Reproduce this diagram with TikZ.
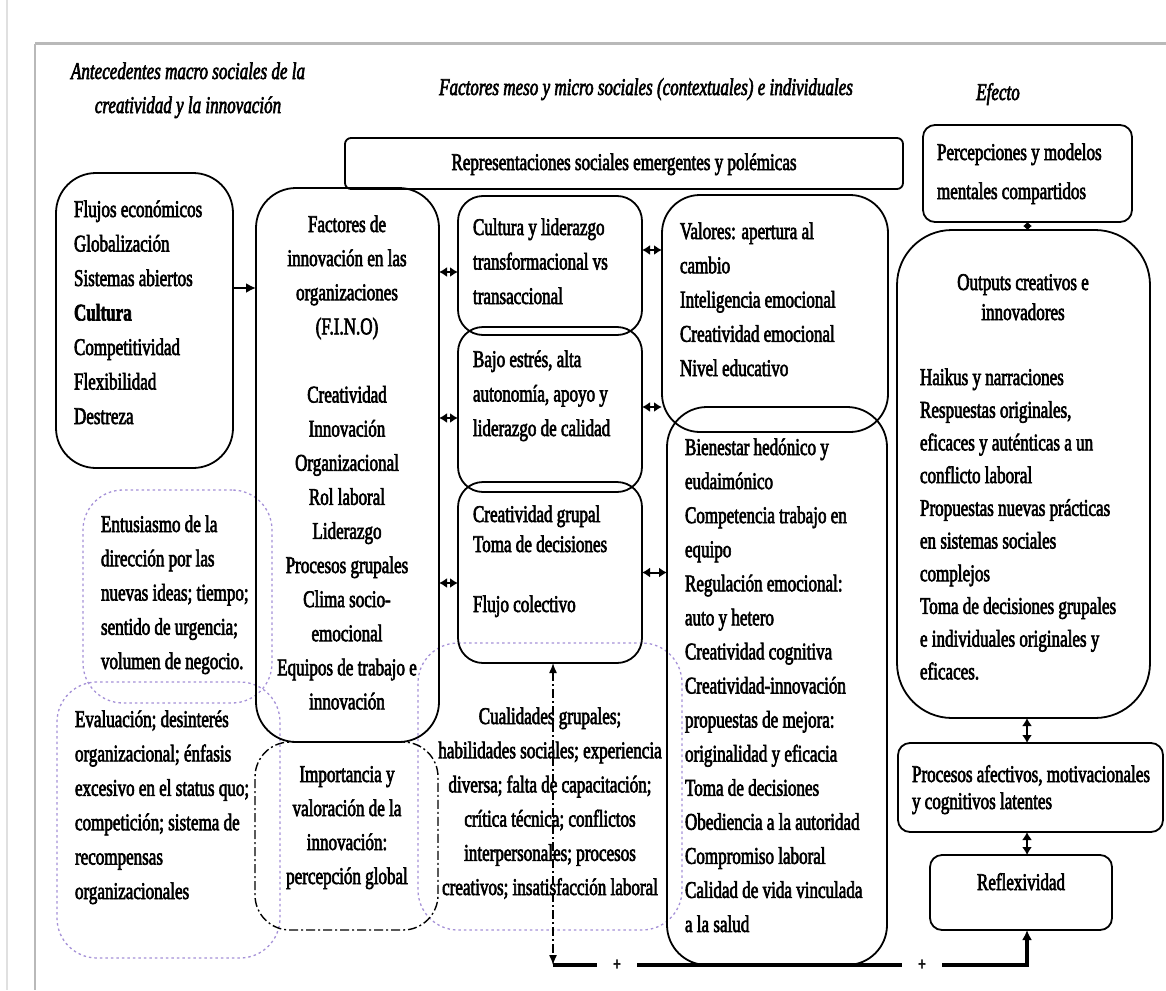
\documentclass[tikz,border=0pt]{standalone}
\usepackage{fontspec}
\setmainfont[FakeStretch=0.71, FakeBold=2.5]{Liberation Serif}
\usetikzlibrary{arrows.meta,calc}
\newcommand\lnstrut{\rule{0pt}{20pt}}
\newcommand\setfs[1]{\fontsize{24}{#1}\selectfont}
\definecolor{lav}{RGB}{165,145,215}
\definecolor{framegray}{RGB}{185,185,185}
\begin{document}
\begin{tikzpicture}[x=1pt,y=-1pt,
  box/.style={draw, line width=1.8pt, inner sep=0pt, outer sep=0pt, anchor=north west},
  dotbox/.style={draw=lav, line width=1.3pt, dash pattern=on 2.5pt off 3pt, inner sep=0pt, outer sep=0pt, anchor=north west},
  dashdotbox/.style={draw, line width=1.4pt, dash pattern=on 9pt off 3pt on 2pt off 3pt, inner sep=0pt, outer sep=0pt, anchor=north west},
  tx/.style={inner sep=0pt, outer sep=0pt, align=left, anchor=north west},
  tc/.style={inner sep=0pt, outer sep=0pt, align=center, anchor=north},
  dbl/.style={line width=2pt, {Latex[length=8pt,width=10pt]}-{Latex[length=8pt,width=10pt]}},
  sdbl/.style={line width=2.5pt, {Latex[length=4pt,width=9pt]}-{Latex[length=4pt,width=9pt]}},
  fb/.style={line width=3.5pt},
  ddline/.style={line width=1.4pt, dash pattern=on 9pt off 3pt on 2pt off 3pt},
  plus/.style={inner sep=0pt, outer sep=0pt, minimum width=40pt, font=\bfseries\fontsize{19}{19}\selectfont}
]
\useasboundingbox (0,0) rectangle (1166,990);

% page frame
\draw[black!12, line width=1.5pt] (7,0) -- (7,990);
\draw[framegray, line width=3pt] (35,44) -- (1166,44);
\draw[framegray, line width=2.5pt] (35,44) -- (35,990);

% column headings
\node[tc, font=\itshape\setfs{34}] (hA) at (188,59) {\lnstrut Antecedentes macro sociales de la\\creatividad y la innovación};
\node[tc, font=\itshape\setfs{34}] (hB) at (646,75) {\lnstrut Factores meso y micro sociales (contextuales) e individuales};
\node[tc, font=\itshape\setfs{34}] (hC) at (998,80) {\lnstrut Efecto};

% dotted and dash-dotted groupings
\node[dotbox, minimum width=189pt, minimum height=213pt, rounded corners=40pt] (entu) at (83,490) {};
\node[dotbox, minimum width=223pt, minimum height=276pt, rounded corners=40pt] (eval) at (57,682) {};
\node[dotbox, minimum width=264pt, minimum height=287pt, rounded corners=40pt] (cual) at (418,643) {};
\node[dashdotbox, minimum width=183pt, minimum height=188pt, rounded corners=35pt] (impo) at (255,742) {};

% solid boxes
\node[box, minimum width=558pt, minimum height=51pt, rounded corners=6pt] (repr) at (345,138) {};
\node[box, minimum width=177pt, minimum height=295pt, rounded corners=40pt] (flujos) at (56,173) {};
\node[box, minimum width=183pt, minimum height=554pt, rounded corners=40pt] (fino) at (256,188) {};
\node[box, minimum width=184pt, minimum height=139pt, rounded corners=25pt] (cult) at (458,196) {};
\node[box, minimum width=184pt, minimum height=165pt, rounded corners=25pt] (bajo) at (458,327) {};
\node[box, minimum width=184pt, minimum height=181pt, rounded corners=25pt] (crea) at (458,482) {};
\node[box, minimum width=226pt, minimum height=237pt, rounded corners=38pt] (valores) at (662,195) {};
\node[box, minimum width=220pt, minimum height=558pt, rounded corners=40pt] (bien) at (667,407) {};
\node[box, minimum width=209pt, minimum height=97pt, rounded corners=12pt] (perc) at (923,125) {};
\node[box, minimum width=253pt, minimum height=488pt, rounded corners=55pt] (outp) at (897,230) {};
\node[box, minimum width=265pt, minimum height=89pt, rounded corners=12pt] (proc) at (898,743) {};
\node[box, minimum width=182pt, minimum height=75pt, rounded corners=12pt] (refl) at (930,855) {};

% texts
\node[tc, font=\setfs{34}] (reprT) at (624,150) {\lnstrut Representaciones sociales emergentes y polémicas};
\node[tx, font=\setfs{34.5}] (flujosT) at (74,197) {\lnstrut Flujos económicos\\Globalización\\Sistemas abiertos\\\textbf{Cultura}\\Competitividad\\Flexibilidad\\Destreza};
\node[tc, font=\setfs{34.1}] (finoT) at (347,212) {\lnstrut Factores de\\innovación en las\\organizaciones\\(F.I.N.O)\\\mbox{}\\Creatividad\\Innovación\\Organizacional\\Rol laboral\\Liderazgo\\Procesos grupales\\Clima socio-\\emocional\\Equipos de trabajo e\\innovación};
\node[tx, font=\setfs{34.5}] (cultT) at (473,215) {\lnstrut Cultura y liderazgo\\transformacional vs\\transaccional};
\node[tx, font=\setfs{34.5}] (bajoT) at (473,347) {\lnstrut Bajo estrés, alta\\autonomía, apoyo y\\liderazgo de calidad};
\node[tx, font=\setfs{30}] (creaT) at (473,502) {\lnstrut Creatividad grupal\\Toma de decisiones\\\mbox{}\\Flujo colectivo};
\node[tx, font=\setfs{34.25}] (valT) at (680,219) {\lnstrut Valores: apertura al\\cambio\\Inteligencia emocional\\Creatividad emocional\\Nivel educativo};
\node[tx, font=\setfs{34.07}] (bienT) at (685,435) {\lnstrut Bienestar hedónico y\\eudaimónico\\Competencia trabajo en\\equipo\\Regulación emocional:\\auto y hetero\\Creatividad cognitiva\\Creatividad-innovación\\propuestas de mejora:\\originalidad y eficacia\\Toma de decisiones\\Obediencia a la autoridad\\Compromiso laboral\\Calidad de vida vinculada\\a la salud};
\node[tx, font=\setfs{39}] (percT) at (937,140) {\lnstrut Percepciones y modelos\\mentales compartidos};
\node[tc, font=\setfs{30}] (outTitle) at (1023,270) {\lnstrut Outputs creativos e\\innovadores};
\node[tx, font=\setfs{32.7}] (outT) at (920,365) {\lnstrut Haikus y narraciones\\Respuestas originales,\\eficaces y auténticas a un\\conflicto laboral\\Propuestas nuevas prácticas\\en sistemas sociales\\complejos\\Toma de decisiones grupales\\e individuales originales y\\eficaces.};
\node[tx, font=\setfs{27}] (procT) at (912,762) {\lnstrut Procesos afectivos, motivacionales\\y cognitivos latentes};
\node[tc, font=\setfs{30}] (reflT) at (1021,870) {\lnstrut Reflexividad};
\node[tx, font=\setfs{34.25}] (entuT) at (101,512) {\lnstrut Entusiasmo de la\\dirección por las\\nuevas ideas; tiempo;\\sentido de urgencia;\\volumen de negocio.};
\node[tx, font=\setfs{34.4}] (evalT) at (75,707) {\lnstrut Evaluación; desinterés\\organizacional; énfasis\\excesivo en el status quo;\\competición; sistema de\\recompensas\\organizacionales};
\node[tc, font=\setfs{34}] (impoT) at (347,762) {\lnstrut Importancia y\\valoración de la\\innovación:\\percepción global};
\node[tc, font=\setfs{34.2}] (cualT) at (550,704) {\lnstrut Cualidades grupales;\\habilidades sociales; experiencia\\diversa; falta de capacitación;\\crítica técnica; conflictos\\interpersonales; procesos\\creativos; insatisfacción laboral};

% connector end points
\coordinate (flujosE) at ([yshift=32.5pt]flujos.east);
\coordinate (cultW) at ([yshift=-6.5pt]cult.west);
\coordinate (bajoW) at ([yshift=-8.5pt]bajo.west);
\coordinate (creaW) at ([yshift=-10.5pt]crea.west);
\coordinate (cultE) at ([yshift=15.5pt]cult.east);
\coordinate (bajoE) at ([yshift=2.5pt]bajo.east);
\coordinate (creaE) at (crea.east);
\coordinate (outpS) at ([xshift=3.5pt]outp.south);
\coordinate (reflN) at ([xshift=6pt]refl.north);
\coordinate (reflS) at ([xshift=6pt]refl.south);
\coordinate (creaS) at ([xshift=3pt]crea.south);
\coordinate (fbL) at (creaS |- bien.south);

% connectors
\draw[line width=2pt, -{Latex[length=10pt,width=10pt]}] (flujosE) -- (flujosE -| fino.west);
\draw[dbl] (cultW -| fino.east) -- (cultW);
\draw[dbl] (bajoW -| fino.east) -- (bajoW);
\draw[dbl] (creaW -| fino.east) -- (creaW);
\draw[dbl] (cultE) -- (cultE -| valores.west);
\draw[dbl] (bajoE) -- (bajoE -| valores.west);
\draw[dbl] (creaE) -- (creaE -| bien.west);
\draw[sdbl] (perc.south) -- (perc.south |- outp.north);
\draw[dbl] (outpS) -- (outpS |- proc.north);
\draw[dbl] (reflN |- proc.south) -- (reflN);

% feedback loop
\draw[ddline, {Latex[length=10pt,width=8pt]}-{Latex[length=10pt,width=8pt]}] (creaS) -- (fbL);
\node[plus] (p1) at (617,965) {+};
\node[plus] (p2) at (922,965) {+};
\draw[fb] (fbL) -- (p1.west);
\draw[fb] (p1.east) -- (p2.west);
\draw[fb, -{Latex[length=10pt,width=10pt]}] (p2.east) -| (reflS);
\end{tikzpicture}
\end{document}
